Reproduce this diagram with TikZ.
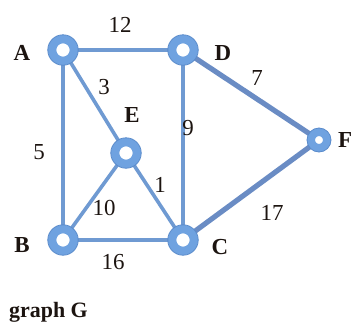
\documentclass[tikz,border=0pt]{standalone}
\usepackage{fontspec}
\setmainfont{Liberation Serif}
\definecolor{ringblue}{HTML}{6FA2E0}
\definecolor{ringedge}{HTML}{5A8BCB}
\definecolor{edgeblue}{HTML}{6F9AD2}
\definecolor{edgedark}{HTML}{6A8CC4}
\definecolor{ink}{HTML}{1C1410}
\begin{document}
\begin{tikzpicture}[x=1bp,y=-1bp,
  vtx/.style={circle, draw=ringblue, line width=8.5bp, fill=white,
              minimum size=22bp, inner sep=0pt},
  vtxsmall/.style={vtx, minimum size=16bp, line width=8bp},
  rim/.style={draw=ringedge, line width=0.8bp},
  link/.style={draw=edgeblue, line width=3.6bp},
  heavylink/.style={draw=edgedark, line width=5.2bp},
  vname/.style={text=ink, font=\fontsize{23}{23}\selectfont\bfseries, inner sep=0pt},
  weight/.style={text=ink, font=\fontsize{23}{23}\selectfont, inner sep=0pt}]
\useasboundingbox (0,0) rectangle (354,324);

% vertex positions
\coordinate (pA) at (63,50);
\coordinate (pD) at (183,50);
\coordinate (pE) at (126,153);
\coordinate (pB) at (63,240);
\coordinate (pC) at (183,240);
\coordinate (pF) at (319,140);

% edges
\draw[link] (pA) -- (pD);
\draw[link] (pA) -- (pB);
\draw[link] (pA) -- (pE);
\draw[link] (pE) -- (pB);
\draw[link] (pE) -- (pC);
\draw[link] (pD) -- (pC);
\draw[link] (pB) -- (pC);
\draw[heavylink] (pD) -- (pF);
\draw[heavylink] (pC) -- (pF);

% vertices
\node[vtx] (A) at (pA) {};
\node[vtx] (D) at (pD) {};
\node[vtx] (E) at (pE) {};
\node[vtx] (B) at (pB) {};
\node[vtx] (C) at (pC) {};
\node[vtxsmall] (F) at (pF) {};
\foreach \v in {A,D,E,B,C}
  \draw[rim] (\v.center) circle[radius=15.2bp];
\draw[rim] (F.center) circle[radius=12bp];

% vertex names
\node[vname] (lA) at (22,53) {A};
\node[vname] (lD) at (223,53) {D};
\node[vname] (lE) at (132,115) {E};
\node[vname] (lF) at (345,140) {F};
\node[vname] (lB) at (22,245) {B};
\node[vname] (lC) at (220,247) {C};

% edge weights
\node[weight] (w12) at (120,25) {12};
\node[weight] (w3) at (104,87) {3};
\node[weight] (w5) at (39,152) {5};
\node[weight] (w9) at (188,128) {9};
\node[weight] (w1) at (160,185) {1};
\node[weight] (w10) at (104,208) {10};
\node[weight] (w16) at (113,262) {16};
\node[weight] (w7) at (257,78) {7};
\node[weight] (w17) at (272,213) {17};

% caption
\node[text=ink, font=\fontsize{22}{22}\selectfont\bfseries, anchor=west, inner sep=0pt]
  (cap) at (9,312) {graph G};
\end{tikzpicture}
\end{document}
